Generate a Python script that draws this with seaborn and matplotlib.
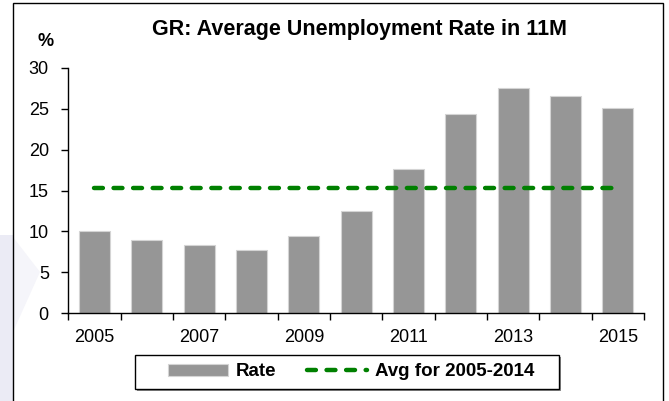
import matplotlib
matplotlib.use('Agg')
import matplotlib.pyplot as plt
import seaborn as sns
import pandas as pd
from matplotlib.patches import Rectangle, Polygon

years = [2005, 2006, 2007, 2008, 2009, 2010, 2011, 2012, 2013, 2014, 2015]
rate = [10.0, 8.9, 8.4, 7.7, 9.5, 12.5, 17.6, 24.4, 27.5, 26.6, 25.1]
avg_2005_2014 = [15.3, 15.3, 15.3, 15.3, 15.3, 15.3, 15.3, 15.3, 15.3, 15.3, 15.3]
year_labels = ['2005', '', '2007', '', '2009', '', '2011', '', '2013', '', '2015']

sns.set_style('ticks')
plt.rcParams['font.family'] = ['Liberation Sans', 'DejaVu Sans']
plt.rcParams['text.color'] = 'black'
plt.rcParams['xtick.color'] = 'black'
plt.rcParams['ytick.color'] = 'black'
plt.rcParams['axes.edgecolor'] = 'black'

df = pd.DataFrame({'year': [str(y) for y in years], 'rate': rate, 'avg': avg_2005_2014})

fig = plt.figure(figsize=(6.69, 4.01), dpi=100)
W, H = 669, 401

def px(x, y):
    return (x / W, 1 - y / H)

# page decoration and outer frame (pixel coordinates)
fig.patches.append(Rectangle(px(0, 401), 13 / W, 166 / H, facecolor='#ebebf5', edgecolor='none',
                             transform=fig.transFigure, zorder=0))
fig.patches.append(Polygon([px(13, 237), px(40, 272), px(13, 332)], closed=True,
                           facecolor='#f5f5fa', edgecolor='none', transform=fig.transFigure, zorder=0))
fig.patches.append(Rectangle(px(13, 405), 650 / W, 402 / H, facecolor='none', edgecolor='black',
                             linewidth=1.0, transform=fig.transFigure, zorder=1))

# legend box with shadow
fig.patches.append(Rectangle(px(137, 391), 424 / W, 34 / H, facecolor='#8c8c8c', edgecolor='none',
                             transform=fig.transFigure, zorder=1))
fig.patches.append(Rectangle(px(135, 389), 424 / W, 34 / H, facecolor='white', edgecolor='black',
                             linewidth=1.0, transform=fig.transFigure, zorder=1))

ax = fig.add_axes([68.3 / W, 1 - 313.3 / H, (644 - 68.3) / W, (313.3 - 67.7) / H])
ax.patch.set_alpha(0)

sns.barplot(data=df, x='year', y='rate', color='#969696', saturation=1, width=0.59,
            edgecolor='#d4d4d4', linewidth=0.8, ax=ax, label='Rate')
ax.plot(range(len(years)), df['avg'], color='#008000', linewidth=3.2, linestyle=(0, (2.0, 2.4)),
        dash_capstyle='round', label='Avg for 2005-2014')
if ax.get_legend() is not None:
    ax.get_legend().remove()

ax.set_ylim(0, 30)
ax.set_yticks([0, 5, 10, 15, 20, 25, 30])
ax.set_xlim(-0.5, len(years) - 0.5)
ax.set_xticks([i - 0.5 for i in range(len(years) + 1)])
ax.set_xticklabels([])
ax.set_xticks(range(len(years)), minor=True)
ax.set_xticklabels(year_labels, minor=True)
ax.tick_params(axis='x', which='minor', length=0, pad=11, labelsize=13)
ax.tick_params(axis='x', which='major', length=5, width=1, direction='out')
ax.tick_params(axis='y', length=5, width=1, pad=9, labelsize=13)
ax.set_xlabel('')
ax.set_ylabel('')
for s in ['top', 'right']:
    ax.spines[s].set_visible(False)
for s in ['left', 'bottom']:
    ax.spines[s].set_linewidth(1.0)

fig.text(359 / W, 1 - 30 / H, 'GR: Average Unemployment Rate in 11M', ha='center', va='center',
         fontsize=15.5, fontweight='bold')
fig.text(46 / W, 1 - 42 / H, '%', ha='center', va='center', fontsize=13, fontweight='bold')

handles, labels = ax.get_legend_handles_labels()
order = [labels.index('Rate'), labels.index('Avg for 2005-2014')]
leg = fig.legend([handles[i] for i in order], [labels[i] for i in order],
                 loc='center', bbox_to_anchor=(351 / W, 1 - 372 / H),
                 ncol=2, frameon=False, prop={'weight': 'bold', 'size': 13.5},
                 handlelength=3.2, handleheight=0.55, handletextpad=0.45, columnspacing=1.6)
leg.set_zorder(5)

fig.savefig('out.png', dpi=100)
